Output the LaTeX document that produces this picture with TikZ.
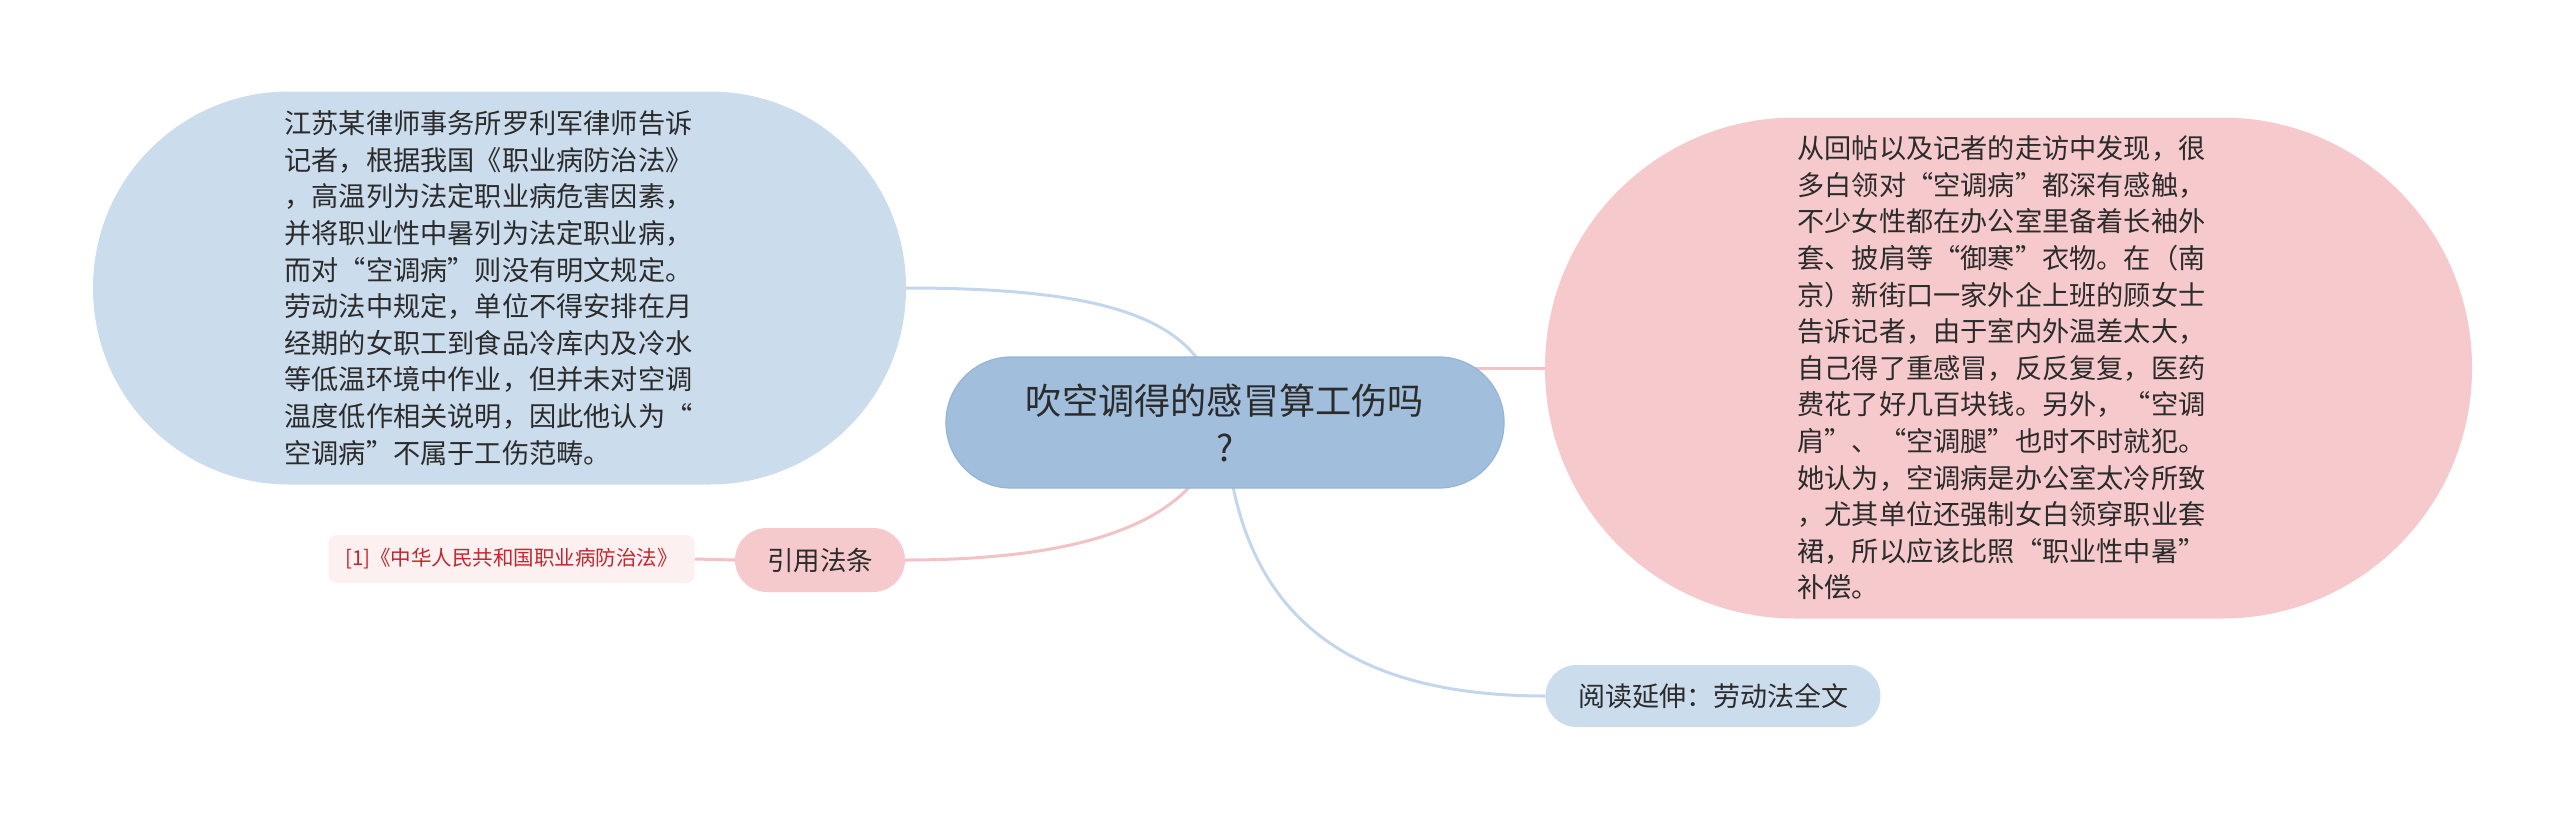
\documentclass[tikz,border=0pt]{standalone}
\usepackage{fontspec}
\newfontfamily\cjk{Noto Sans CJK SC}
\usetikzlibrary{backgrounds,calc}
\definecolor{lightblue}{HTML}{CBDCEC}
\definecolor{midblue}{HTML}{A1BFDC}
\definecolor{midblueedge}{HTML}{96B5D5}
\definecolor{pinkfill}{HTML}{F6CACC}
\definecolor{reffill}{HTML}{FDF0F1}
\definecolor{blueline}{HTML}{C4D7EA}
\definecolor{pinkline}{HTML}{F2C2C4}
\definecolor{txt}{HTML}{2B2B2B}
\definecolor{reftxt}{HTML}{C3262E}
\tikzset{
  every node/.style={font=\cjk, text=txt, inner sep=0pt, outer sep=0pt},
  bigblue/.style={fill=lightblue, rounded corners=196pt, minimum width=813pt, minimum height=393pt,
    text width=430pt, align=left, font=\cjk\fontsize{27.2pt}{36.6pt}\selectfont},
  bigpink/.style={fill=pinkfill, rounded corners=250pt, minimum width=927pt, minimum height=501pt,
    text width=422pt, align=left, font=\cjk\fontsize{27.2pt}{36.6pt}\selectfont},
  rootbox/.style={fill=midblue, draw=midblueedge, line width=1.2pt, rounded corners=65pt,
    minimum width=558pt, minimum height=131pt, align=center, font=\cjk\fontsize{36.2pt}{47pt}\selectfont},
  pinkpill/.style={fill=pinkfill, rounded corners=32pt, minimum width=170pt, minimum height=64pt,
    font=\cjk\fontsize{26.5pt}{32pt}\selectfont},
  bluepill/.style={fill=lightblue, rounded corners=31pt, minimum width=335pt, minimum height=62pt,
    font=\cjk\fontsize{27pt}{32pt}\selectfont},
  refbox/.style={fill=reffill, rounded corners=8pt, minimum width=366pt, minimum height=48pt,
    text=reftxt, font=\cjk\fontsize{20.5pt}{24pt}\selectfont},
  bconn/.style={draw=blueline, line width=3pt},
  pconn/.style={draw=pinkline, line width=3pt}
}
\begin{document}
\begin{tikzpicture}[x=1pt,y=-1pt]
\useasboundingbox (0,0) rectangle (2560,819);

\node[bigblue] (L) at (499.5,288) {江苏某律师事务所罗利军律师告诉\\记者，根据我国《职业病防治法》\\，高温列为法定职业病危害因素，\\并将职业性中暑列为法定职业病，\\而对“空调病”则没有明文规定。\\劳动法中规定，单位不得安排在月\\经期的女职工到食品冷库内及冷水\\等低温环境中作业，但并未对空调\\温度低作相关说明，因此他认为“\\空调病”不属于工伤范畴。};

\node[bigpink] (R) at (2008.5,368) {从回帖以及记者的走访中发现，很\\多白领对“空调病”都深有感触，\\不少女性都在办公室里备着长袖外\\套、披肩等“御寒”衣物。在（南\\京）新街口一家外企上班的顾女士\\告诉记者，由于室内外温差太大，\\自己得了重感冒，反反复复，医药\\费花了好几百块钱。另外，“空调\\肩”、“空调腿”也时不时就犯。\\她认为，空调病是办公室太冷所致\\，尤其单位还强制女白领穿职业套\\裙，所以应该比照“职业性中暑”\\补偿。};

\node[rootbox] (C) at (1225,422.5) {吹空调得的感冒算工伤吗\\?};

\node[pinkpill] (P) at (820,560) {引用法条};
\node[refbox] (F) at (511.5,559) {[1]《中华人民共和国职业病防治法》};
\node[bluepill] (Y) at (1713,696) {阅读延伸：劳动法全文};

\begin{pgfonlayer}{background}
  \path[bconn] (L.east) .. controls ($(L.east)+(215,0)$) and ($(C.center)+(-13,-100)$) .. ($(C.center)+(-5,0)$);
  \path[pconn] (P.east) .. controls ($(P.east)+(190,0)$) and ($(C.center)+(-18,95)$) .. ($(C.center)+(-5,0)$);
  \path[bconn] (C.center) .. controls ($(C.center)+(10,178)$) and ($(Y.west)+(-216,0)$) .. (Y.west);
  \path[pconn] (R.west) -- (R.west -| C.center);
  \path[pconn] (P.west) -- (F.east);
\end{pgfonlayer}
\end{tikzpicture}
\end{document}
